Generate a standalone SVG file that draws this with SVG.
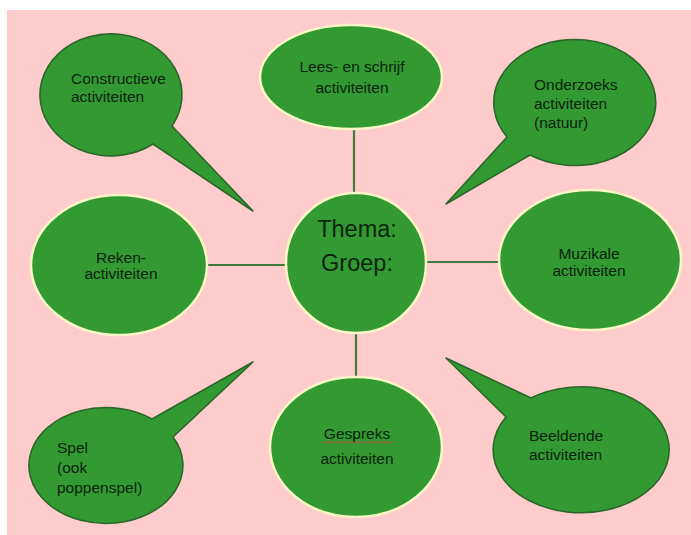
<svg xmlns="http://www.w3.org/2000/svg" width="691" height="535" viewBox="0 0 691 535">
<style>
.bg{fill:#ffcccc}
.node{fill:#339933;stroke:#f7f7c6;stroke-width:2.5}
.callout{fill:#339933;stroke:#2a682a;stroke-width:1.6;stroke-linejoin:round}
.conn{stroke:#3f7a3f;stroke-width:2.2;fill:none}
text{font-family:"Liberation Sans",Arial,sans-serif;font-size:15.5px;fill:#0c240c}
.c{text-anchor:middle}
.big{font-size:23.5px}
</style>
<rect x="0" y="0" width="691" height="535" fill="#ffffff"/>
<rect class="bg" x="7" y="10" width="684" height="525"/>
<g id="connectors">
<line class="conn" x1="354" y1="128" x2="354" y2="194"/>
<line class="conn" x1="356" y1="333" x2="356" y2="378"/>
<line class="conn" x1="207" y1="265" x2="286" y2="265"/>
<line class="conn" x1="427" y1="262" x2="499" y2="262"/>
</g>
<g id="constructieve">
<path class="callout" d="M172,126 L253,211 L153,144 A71,61 0 1 1 172,126 Z"/>
<text x="71" y="84">Constructieve</text>
<text x="71" y="102">activiteiten</text>
</g>
<g id="lees">
<ellipse class="node" cx="351" cy="77" rx="91" ry="52"/>
<text class="c" x="352" y="72">Lees- en schrijf</text>
<text class="c" x="352" y="93">activiteiten</text>
</g>
<g id="onderzoeks">
<path class="callout" d="M507,137 L446,204 L530,155 A81,63 0 1 0 507,137 Z"/>
<text x="534" y="90">Onderzoeks</text>
<text x="534" y="109">activiteiten</text>
<text x="534" y="128">(natuur)</text>
</g>
<g id="reken">
<ellipse class="node" cx="119" cy="265" rx="88" ry="70"/>
<text class="c" x="121" y="263">Reken-</text>
<text class="c" x="121" y="279">activiteiten</text>
</g>
<g id="thema">
<ellipse class="node" cx="356" cy="263" rx="70" ry="70"/>
<text class="c big" x="357" y="237">Thema:</text>
<text class="c big" x="357" y="271">Groep:</text>
</g>
<g id="muzikale">
<ellipse class="node" cx="590" cy="260" rx="91" ry="70"/>
<text class="c" x="589" y="259">Muzikale</text>
<text class="c" x="589" y="276">activiteiten</text>
</g>
<g id="spel">
<path class="callout" d="M152,419 L253,362 L173,437 A77,58 0 1 1 152,419 Z"/>
<text x="57" y="453">Spel</text>
<text x="57" y="473">(ook</text>
<text x="57" y="493">poppenspel)</text>
</g>
<g id="gespreks">
<ellipse class="node" cx="356" cy="447" rx="86" ry="70"/>
<text class="c" x="357" y="439">Gespreks</text>
<path d="M322,443 l2,-1.5 l2,1.5 l2,-1.5 l2,1.5 l2,-1.5 l2,1.5 l2,-1.5 l2,1.5 l2,-1.5 l2,1.5 l2,-1.5 l2,1.5 l2,-1.5 l2,1.5 l2,-1.5 l2,1.5 l2,-1.5 l2,1.5 l2,-1.5 l2,1.5 l2,-1.5 l2,1.5 l2,-1.5 l2,1.5 l2,-1.5 l2,1.5 l2,-1.5 l2,1.5 l2,-1.5 l2,1.5 l2,-1.5 l2,1.5 l2,-1.5 l2,1.5 l2,-1.5" fill="none" stroke="#d04040" stroke-width="0.9"/>
<text class="c" x="357" y="464">activiteiten</text>
</g>
<g id="beeldende">
<path class="callout" d="M531,398 L446,358 L506,417 A88,63 0 1 0 531,398 Z"/>
<text x="529" y="441">Beeldende</text>
<text x="529" y="460">activiteiten</text>
</g>
</svg>
